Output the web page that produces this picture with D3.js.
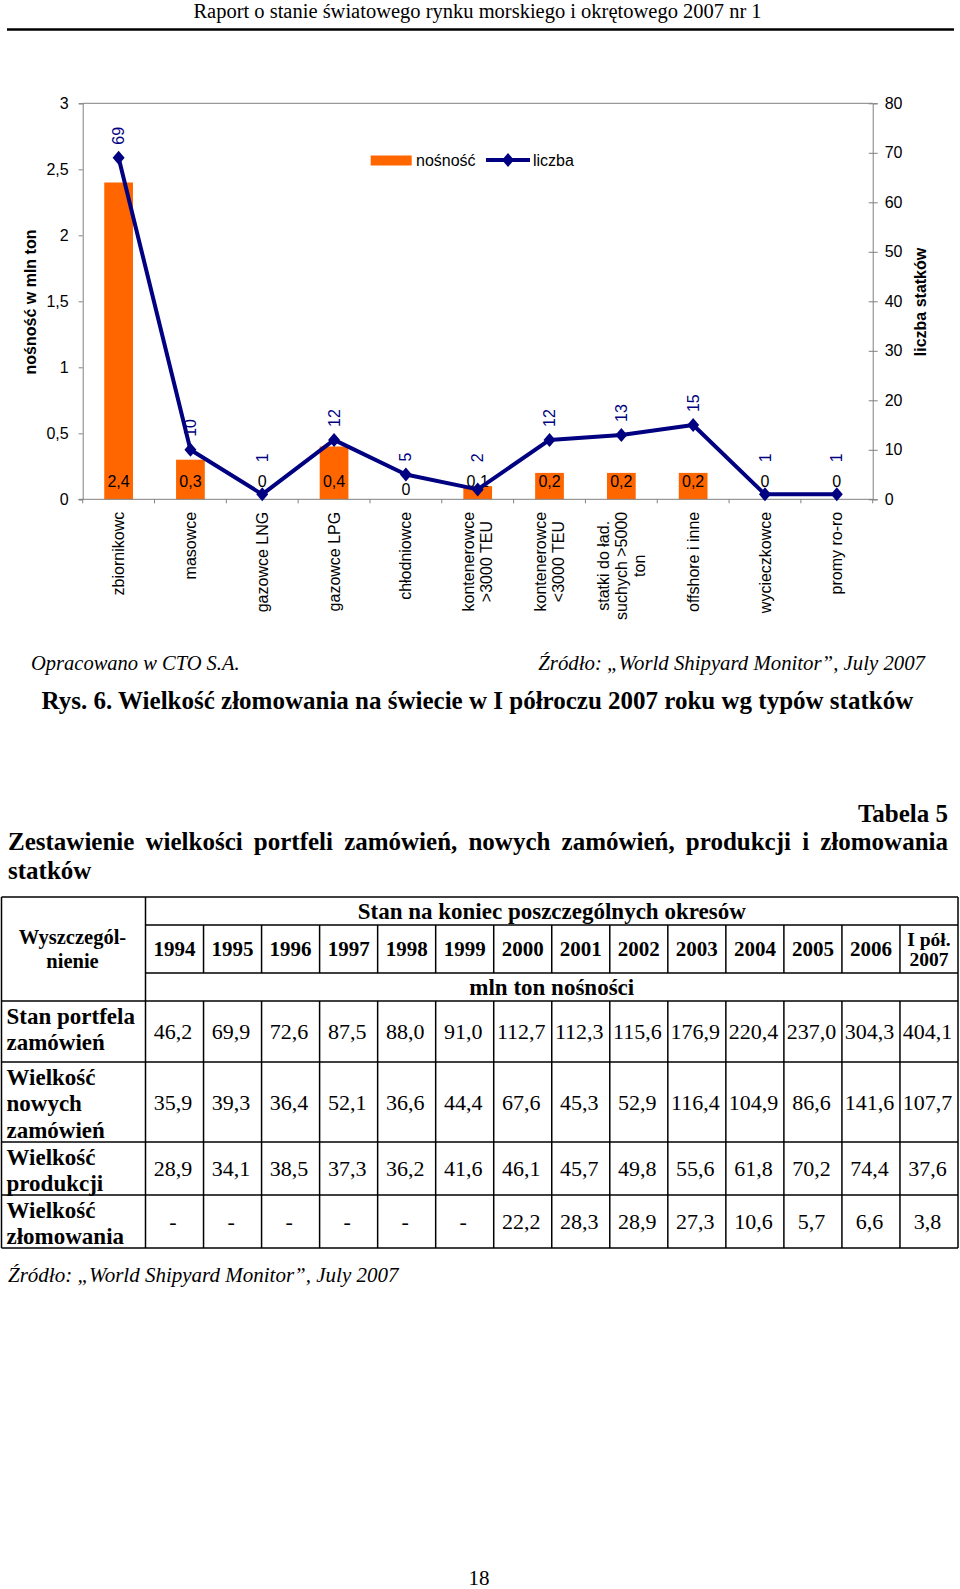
<!DOCTYPE html>
<html>
<head>
<meta charset="utf-8">
<script src="https://cdn.jsdelivr.net/npm/d3@7"></script>
<style>
  body { margin: 0; background: #fff; }
  svg { display: block; }
</style>
</head>
<body>
<svg id="page"></svg>
<script>
// ---------------- chart data ----------------
const categories = ["zbiornikowc", "masowce", "gazowce LNG", "gazowce LPG", "chłodniowce",
  "kontenerowce\n>3000 TEU", "kontenerowce\n<3000 TEU", "statki do ład.\nsuchych >5000\nton",
  "offshore i inne", "wycieczkowce", "promy ro-ro"]
const nosnosc = [2.4, 0.3, 0, 0.4, 0, 0.1, 0.2, 0.2, 0.2, 0, 0]   // mln ton
const liczba = [69, 10, 1, 12, 5, 2, 12, 13, 15, 1, 1]            // number of ships
const leftTicks = [0, 0.5, 1, 1.5, 2, 2.5, 3]
const rightTicks = [0, 10, 20, 30, 40, 50, 60, 70, 80]

// ---------------- table data ----------------
const years = ["1994", "1995", "1996", "1997", "1998", "1999", "2000", "2001", "2002",
  "2003", "2004", "2005", "2006", "I pół.\n2007"]
const rowLabels = [["Stan portfela", "zamówień"], ["Wielkość", "nowych", "zamówień"],
  ["Wielkość", "produkcji"], ["Wielkość", "złomowania"]]
const portfel = [46.2, 69.9, 72.6, 87.5, 88.0, 91.0, 112.7, 112.3, 115.6, 176.9, 220.4, 237.0, 304.3, 404.1]
const noweZam = [35.9, 39.3, 36.4, 52.1, 36.6, 44.4, 67.6, 45.3, 52.9, 116.4, 104.9, 86.6, 141.6, 107.7]
const produkcja = [28.9, 34.1, 38.5, 37.3, 36.2, 41.6, 46.1, 45.7, 49.8, 55.6, 61.8, 70.2, 74.4, 37.6]
const zlomowanie = [null, null, null, null, null, null, 22.2, 28.3, 28.9, 27.3, 10.6, 5.7, 6.6, 3.8]

const W = 960, H = 1589
const serif = "'Liberation Serif', 'Times New Roman', serif"
const sans = "'Liberation Sans', Arial, sans-serif"
const orange = "#ff6600", navy = "#000080", gray = "#808080"
const comma = f => v => d3.format(f)(v).replace(".", ",")

const svg = d3.select("#page").attr("width", W).attr("height", H)
svg.append("rect").attr("width", W).attr("height", H).attr("fill", "#fff")

// ---------------- page header ----------------
svg.append("text")
  .attr("x", 477.5).attr("y", 18)
  .attr("text-anchor", "middle")
  .style("font-family", serif).style("font-size", "20.5px")
  .text("Raport o stanie światowego rynku morskiego i okrętowego 2007 nr 1")
svg.append("line")
  .attr("x1", 7).attr("x2", 954).attr("y1", 29.5).attr("y2", 29.5)
  .attr("stroke", "#000").attr("stroke-width", 2.5)

// ---------------- chart ----------------
const plot = {left: 82.7, right: 872.7, top: 103.3, bottom: 499.3}

const x = d3.scaleBand()
  .domain(d3.range(categories.length))
  .range([plot.left, plot.right])
const yL = d3.scaleLinear().domain([0, 3]).range([plot.bottom, plot.top])
const yR = d3.scaleLinear().domain([0, 80]).range([plot.bottom, plot.top])

const chart = svg.append("g")

// plot frame (top line)
chart.append("line")
  .attr("x1", plot.left).attr("x2", plot.right)
  .attr("y1", yL(3)).attr("y2", yL(3))
  .attr("stroke", gray)

// bars
const barW = x.bandwidth() * 0.4
chart.selectAll("rect.bar")
  .data(nosnosc)
  .enter()
  .append("rect")
    .attr("class", "bar")
    .attr("x", (d, i) => x(i) + (x.bandwidth() - barW) / 2)
    .attr("y", d => yL(d))
    .attr("width", barW)
    .attr("height", d => yL(0) - yL(d))
    .attr("fill", orange)

// left axis
const axL = chart.append("g")
  .attr("transform", "translate(" + plot.left + ",0)")
  .call(d3.axisLeft(yL).tickValues(leftTicks).tickSize(4).tickPadding(10)
    .tickFormat(d => d3.format("~g")(d).replace(".", ",")))
// right axis
const axR = chart.append("g")
  .attr("transform", "translate(" + plot.right + ",0)")
  .call(d3.axisRight(yR).tickValues(rightTicks).tickSize(5).tickPadding(7))
axR.selectAll(".tick line").attr("x1", -4)
// bottom axis: line + ticks on category boundaries
const bounds = d3.range(categories.length + 1).map(i => plot.left + i * x.bandwidth())
chart.append("line")
  .attr("x1", plot.left - 4).attr("x2", plot.right)
  .attr("y1", yL(0)).attr("y2", yL(0))
  .attr("stroke", gray)
chart.selectAll("line.xtick")
  .data(bounds)
  .enter()
  .append("line")
    .attr("class", "xtick")
    .attr("x1", d => d).attr("x2", d => d)
    .attr("y1", yL(0)).attr("y2", yL(0) + 4)
    .attr("stroke", gray)

for (const ax of [axL, axR]) {
  ax.select(".domain").attr("stroke", gray)
  ax.selectAll(".tick line").attr("stroke", gray)
  ax.selectAll("text")
    .style("font-family", sans).style("font-size", "16px").attr("fill", "#000")
}

// bar value labels (inside base), nudged down when a marker sits on top of them
const barLabY = yL(0) - 12.5
chart.selectAll("text.barlab")
  .data(nosnosc)
  .enter()
  .append("text")
    .attr("class", "barlab")
    .attr("x", (d, i) => x(i) + x.bandwidth() / 2)
    .attr("y", (d, i) => {
      const my = yR(liczba[i])
      return (my < barLabY - 6 && my > barLabY - 22) ? barLabY + 8 : barLabY
    })
    .attr("text-anchor", "middle")
    .style("font-family", sans).style("font-size", "16px")
    .text(comma(".1~f"))

// line
const cx = i => x(i) + x.bandwidth() / 2
chart.append("path")
  .datum(liczba)
  .attr("fill", "none")
  .attr("stroke", navy)
  .attr("stroke-width", 4)
  .attr("stroke-linejoin", "round")
  .attr("d", d3.line().x((d, i) => cx(i)).y(d => yR(d)))

const diamond = "M0,-7L6,0L0,7L-6,0Z"
chart.selectAll("path.mark")
  .data(liczba)
  .enter()
  .append("path")
    .attr("class", "mark")
    .attr("d", diamond)
    .attr("transform", (d, i) => "translate(" + cx(i) + "," + yR(d) + ")")
    .attr("fill", navy)

// line value labels, rotated, kept above the bar labels
chart.selectAll("text.linelab")
  .data(liczba)
  .enter()
  .append("text")
    .attr("class", "linelab")
    .attr("transform", (d, i) => "translate(" + cx(i) + "," + Math.min(yR(d) - 13, yL(0) - 37) + ") rotate(-90)")
    .attr("dy", "0.35em")
    .attr("fill", navy)
    .style("font-family", sans).style("font-size", "16px")
    .text(d => d)

// category labels, rotated, multi-line centred
const catG = chart.selectAll("g.cat")
  .data(categories)
  .enter()
  .append("g")
    .attr("class", "cat")
    .attr("transform", (d, i) => "translate(" + cx(i) + "," + (yL(0) + 12.5) + ") rotate(-90)")
catG.each(function(d) {
  const lines = d.split("\n")
  const g = d3.select(this)
  const t = g.selectAll("text").data(lines).enter().append("text")
    .attr("text-anchor", "middle")
    .attr("y", (l, j) => (j - (lines.length - 1) / 2) * 18.4)
    .attr("dy", "0.35em")
    .style("font-family", sans).style("font-size", "16px")
    .text(l => l)
  const maxLen = d3.max(t.nodes(), n => n.getComputedTextLength())
  t.attr("x", -maxLen / 2)
})

// axis titles
chart.append("text")
  .attr("transform", "translate(30,302) rotate(-90)")
  .attr("text-anchor", "middle").attr("dy", "0.35em")
  .style("font-family", sans).style("font-size", "16px").style("font-weight", "bold")
  .text("nośność w mln ton")
chart.append("text")
  .attr("transform", "translate(920,302) rotate(-90)")
  .attr("text-anchor", "middle").attr("dy", "0.35em")
  .style("font-family", sans).style("font-size", "16px").style("font-weight", "bold")
  .text("liczba statków")

// legend
const leg = chart.append("g").style("font-family", sans).style("font-size", "16px")
leg.append("rect").attr("x", 370.7).attr("y", 155.5).attr("width", 41).attr("height", 10).attr("fill", orange)
leg.append("text").attr("x", 416).attr("y", 166).text("nośność")
leg.append("line").attr("x1", 486).attr("x2", 530).attr("y1", 160).attr("y2", 160)
  .attr("stroke", navy).attr("stroke-width", 4)
leg.append("path").attr("d", diamond).attr("transform", "translate(508,160)").attr("fill", navy)
leg.append("text").attr("x", 533).attr("y", 166).text("liczba")

// ---------------- captions ----------------
svg.append("text")
  .attr("x", 31).attr("y", 670)
  .style("font-family", serif).style("font-size", "20.5px").style("font-style", "italic")
  .text("Opracowano w CTO S.A.")
svg.append("text")
  .attr("x", 925).attr("y", 670).attr("text-anchor", "end")
  .style("font-family", serif).style("font-size", "20.8px").style("font-style", "italic")
  .text("Źródło: „World Shipyard Monitor”, July 2007")
svg.append("text")
  .attr("x", 41.6).attr("y", 709)
  .style("font-family", serif).style("font-size", "25px").style("font-weight", "bold")
  .text("Rys. 6. Wielkość złomowania na świecie w I półroczu 2007 roku wg typów statków")

svg.append("text")
  .attr("x", 948).attr("y", 822).attr("text-anchor", "end")
  .style("font-family", serif).style("font-size", "25px").style("font-weight", "bold")
  .text("Tabela 5")

// justified title line
const titleWords = "Zestawienie wielkości portfeli zamówień, nowych zamówień, produkcji i złomowania".split(" ")
const tw = svg.append("g").style("font-family", serif).style("font-size", "25px").style("font-weight", "bold")
const wordNodes = tw.selectAll("text").data(titleWords).enter().append("text")
  .attr("y", 850).text(d => d)
const wl = wordNodes.nodes().map(n => n.getComputedTextLength())
const gap = (948 - 8 - d3.sum(wl)) / (titleWords.length - 1)
let xpos = 8
wordNodes.attr("x", (d, i) => { const v = xpos; xpos += wl[i] + gap; return v })
tw.append("text").attr("x", 8).attr("y", 879).text("statków")

// ---------------- table ----------------
const tab = {left: 1.5, right: 958, labelW: 144}
const rowsY = [897, 925, 973, 1001, 1062, 1142, 1195, 1248]
const col = d3.scaleBand().domain(d3.range(years.length)).range([tab.left + tab.labelW, tab.right])
const fmt = v => v === null ? "-" : d3.format(".1f")(v).replace(".", ",")
const dataRows = [portfel, noweZam, produkcja, zlomowanie]

const tg = svg.append("g").style("font-family", serif).style("font-size", "22px")
const hline = (y, x1, x2) => tg.append("line").attr("x1", x1).attr("x2", x2).attr("y1", y).attr("y2", y)
  .attr("stroke", "#000").attr("stroke-width", 1.5)
const vline = (xv, y1, y2) => tg.append("line").attr("x1", xv).attr("x2", xv).attr("y1", y1).attr("y2", y2)
  .attr("stroke", "#000").attr("stroke-width", 1.5)

// outer border and row separators
hline(rowsY[0], tab.left, tab.right)
hline(rowsY[1], col(0), tab.right)
hline(rowsY[2], col(0), tab.right)
for (let r = 3; r < rowsY.length; r++) hline(rowsY[r], tab.left, tab.right)
vline(tab.left, rowsY[0], rowsY[7])
vline(tab.right, rowsY[0], rowsY[7])
vline(col(0), rowsY[0], rowsY[7])
for (let c = 1; c < years.length; c++) {
  vline(col(c), rowsY[1], rowsY[2])
  vline(col(c), rowsY[3], rowsY[7])
}

// header texts
const midX = (col(0) + tab.right) / 2
tg.append("text").attr("x", midX).attr("y", (rowsY[0] + rowsY[1]) / 2).attr("dy", "0.35em")
  .attr("text-anchor", "middle").style("font-weight", "bold").style("font-size", "23px")
  .text("Stan na koniec poszczególnych okresów")
tg.append("text").attr("x", midX).attr("y", (rowsY[2] + rowsY[3]) / 2).attr("dy", "0.35em")
  .attr("text-anchor", "middle").style("font-weight", "bold").style("font-size", "23px")
  .text("mln ton nośności")
tg.selectAll("text.hd").data(["Wyszczegól-", "nienie"]).enter().append("text")
  .attr("x", tab.left + tab.labelW / 2 - 1)
  .attr("y", (d, i) => 937 + i * 23.5).attr("dy", "0.35em")
  .attr("text-anchor", "middle").style("font-size", "20.5px").style("font-weight", "bold")
  .text(d => d)

years.forEach((yr, c) => {
  const lines = yr.split("\n")
  const yMid = (rowsY[1] + rowsY[2]) / 2
  tg.selectAll(null).data(lines).enter().append("text")
    .attr("x", col(c) + col.bandwidth() / 2)
    .attr("y", (l, j) => yMid + (j - (lines.length - 1) / 2) * 20.5)
    .attr("dy", "0.35em")
    .attr("text-anchor", "middle").style("font-weight", "bold")
    .style("font-size", lines.length > 1 ? "19.5px" : "21px")
    .text(l => l)
})

// body rows
dataRows.forEach((vals, r) => {
  const top = rowsY[r + 3], bot = rowsY[r + 4]
  tg.selectAll(null).data(rowLabels[r]).enter().append("text")
    .attr("x", tab.left + 5)
    .attr("y", (l, j) => top + 14.5 + j * 26.7).attr("dy", "0.35em")
    .style("font-weight", "bold").style("font-size", "23px")
    .text(l => l)
  tg.selectAll(null).data(vals).enter().append("text")
    .attr("x", (v, c) => col(c) + col.bandwidth() / 2 - 1.5)
    .attr("y", (top + bot) / 2).attr("dy", "0.35em")
    .attr("text-anchor", "middle")
    .text(fmt)
})

svg.append("text")
  .attr("x", 8).attr("y", 1282)
  .style("font-family", serif).style("font-size", "21px").style("font-style", "italic")
  .text("Źródło: „World Shipyard Monitor”, July 2007")

// page number
svg.append("text")
  .attr("x", 479).attr("y", 1584.5).attr("text-anchor", "middle")
  .style("font-family", serif).style("font-size", "21px")
  .text("18")
</script>
</body>
</html>
